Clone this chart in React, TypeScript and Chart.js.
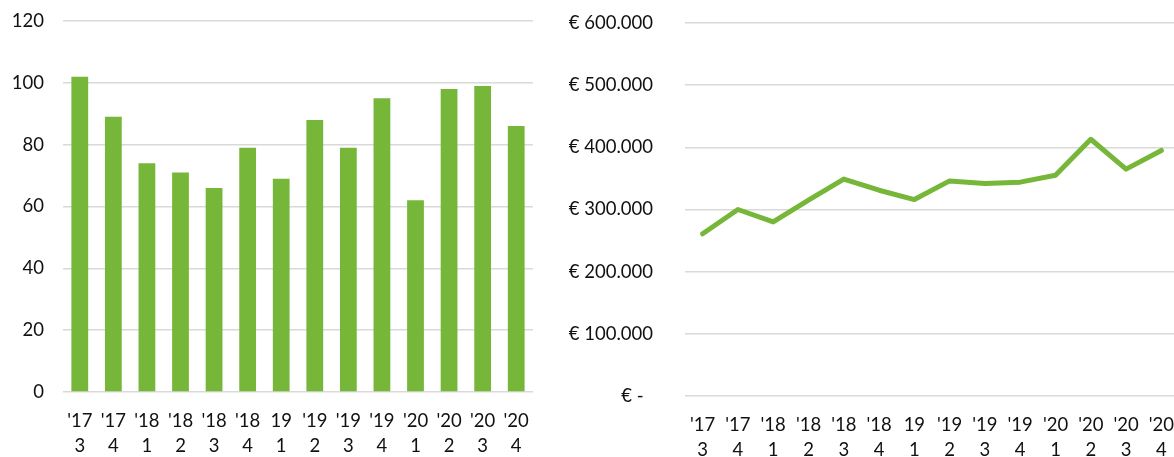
import React, { useEffect, useRef } from 'react';
import { Chart, registerables } from 'chart.js';

Chart.register(...registerables);

// ---- data ----
const years = ["'17", "'17", "'18", "'18", "'18", "'18", "19", "'19", "'19", "'19", "'20", "'20", "'20", "'20"];
const quarters = ["3", "4", "1", "2", "3", "4", "1", "2", "3", "4", "1", "2", "3", "4"];
const barValues = [102, 89, 74, 71, 66, 79, 69, 88, 79, 95, 62, 98, 99, 86];
const lineValues = [261000, 300000, 280000, 315000, 349000, 331000, 316000, 346000, 342000, 344000, 355000, 413000, 365000, 395000];
const barAxis = [0, 120, 20];
const lineAxis = [0, 600000, 100000];

const GREEN = '#76B739';
const GRID = '#D9D9D9';
const FONT = { family: 'Lato', size: 18.5, lineHeight: '25px' } as any;
const TEXT = '#111111';

const labels = years.map((y, i) => [y, quarters[i]]);

function fmtEuro(v: number): string {
  if (v === 0) return '€ -  ';
  const s = String(Math.round(v)).replace(/\B(?=(\d{3})+(?!\d))/g, '.');
  return '€ ' + s;
}

const noPad = (s: any) => { s.paddingTop = 0; s.paddingBottom = 0; s.paddingLeft = 0; s.paddingRight = 0; };

function BarChart() {
  const ref = useRef<HTMLCanvasElement>(null);
  useEffect(() => {
    const chart = new Chart(ref.current!, {
      type: 'bar',
      data: {
        labels,
        datasets: [{ data: barValues, backgroundColor: GREEN, borderWidth: 0, barPercentage: 1, categoryPercentage: 0.5 }],
      },
      options: {
        animation: false,
        responsive: false,
        maintainAspectRatio: false,
        layout: { padding: { top: 21, right: 12, bottom: 0, left: 0 } },
        plugins: { legend: { display: false }, tooltip: { enabled: false } },
        scales: {
          x: {
            grid: { display: false, drawTicks: false },
            border: { display: false },
            ticks: { color: TEXT, font: FONT, padding: 17, maxRotation: 0, autoSkip: false },
            afterFit: (s: any) => { s.height = 65; noPad(s); },
          },
          y: {
            min: barAxis[0], max: barAxis[1],
            grid: { color: GRID, lineWidth: 1.5, drawTicks: false },
            border: { display: false },
            ticks: { stepSize: barAxis[2], color: TEXT, font: FONT, padding: 19 },
            afterFit: (s: any) => { s.width = 63; noPad(s); },
          },
        },
      },
    });
    return () => chart.destroy();
  }, []);
  return <canvas ref={ref} width={545} height={457} style={{ position: 'absolute', left: 0, top: 0 }} />;
}

function LineChart() {
  const ref = useRef<HTMLCanvasElement>(null);
  useEffect(() => {
    const chart = new Chart(ref.current!, {
      type: 'line',
      data: {
        labels,
        datasets: [{ data: lineValues, borderColor: GREEN, borderWidth: 5, pointRadius: 0, tension: 0, fill: false, borderCapStyle: 'round', borderJoinStyle: 'round' }],
      },
      options: {
        animation: false,
        responsive: false,
        maintainAspectRatio: false,
        layout: { padding: { top: 23, right: 21, bottom: 0, left: 0 } },
        plugins: { legend: { display: false }, tooltip: { enabled: false } },
        scales: {
          x: {
            offset: true,
            grid: { display: false, drawTicks: false },
            border: { display: false },
            ticks: { color: TEXT, font: FONT, padding: 17, maxRotation: 0, autoSkip: false },
            afterFit: (s: any) => { s.height = 61; noPad(s); },
          },
          y: {
            min: lineAxis[0], max: lineAxis[1],
            grid: { color: GRID, lineWidth: 1.5, drawTicks: false },
            border: { display: false },
            ticks: { stepSize: lineAxis[2], color: TEXT, font: FONT, padding: 32, callback: (v: any) => fmtEuro(Number(v)) },
            afterFit: (s: any) => { s.width = 125; noPad(s); },
          },
        },
      },
    });
    return () => chart.destroy();
  }, []);
  return <canvas ref={ref} width={640} height={457} style={{ position: 'absolute', left: 560, top: 0 }} />;
}

export default function App() {
  return (
    <div style={{ position: 'fixed', left: 0, top: 0, width: 1174, height: 457, overflow: 'hidden', background: '#fff' }}>
      <BarChart />
      <LineChart />
    </div>
  );
}
